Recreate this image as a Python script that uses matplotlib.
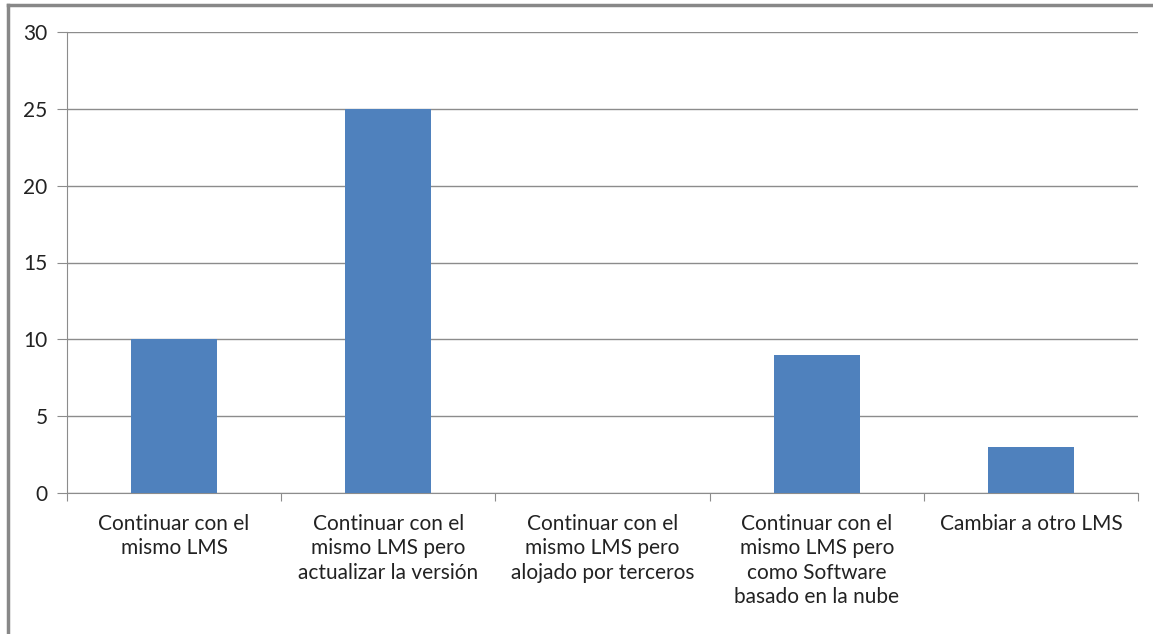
import matplotlib.pyplot as plt
import numpy as np

categories = ["Continuar con el\nmismo LMS",
              "Continuar con el\nmismo LMS pero\nactualizar la versión",
              "Continuar con el\nmismo LMS pero\nalojado por terceros",
              "Continuar con el\nmismo LMS pero\ncomo Software\nbasado en la nube",
              "Cambiar a otro LMS"]
values = [10, 25, 0, 9, 3]
yticks = [0, 5, 10, 15, 20, 25, 30]

plt.rcParams['font.family'] = ['Lato', 'DejaVu Sans']

fig = plt.figure(figsize=(11.53, 6.34), dpi=100)
W, H = 1153, 634
ax = fig.add_axes([67 / W, 1 - 493 / H, (1138 - 67) / W, (493 - 32) / H])

x = np.arange(len(categories))
ax.bar(x, values, width=0.40, color='#4F81BD', zorder=3)

ax.set_xlim(-0.5, len(categories) - 0.5)
ax.set_ylim(0, 30)
ax.set_yticks(yticks)
ax.yaxis.grid(True, color='#8c8c8c', linewidth=1.0, zorder=0)
for side in ['top', 'right']:
    ax.spines[side].set_visible(False)
ax.spines['left'].set_color('#8c8c8c')
ax.spines['bottom'].set_color('#8c8c8c')
ax.tick_params(axis='y', length=7, color='#8c8c8c', labelsize=15, pad=7,
               labelcolor='#222222')

# category boundaries as tick marks, labels centered in between
ax.set_xticks(np.arange(-0.5, len(categories) + 0.5, 1))
ax.set_xticklabels([])
ax.tick_params(axis='x', length=6, color='#8c8c8c')
for i, lab in enumerate(categories):
    ax.text(i, -1.35, lab, ha='center', va='top', fontsize=15,
            linespacing=1.28, color='#222222')

# outer chart border (only top and left visible in the crop)
fig.add_artist(plt.Line2D([8 / W, 1], [1 - 5 / H, 1 - 5 / H], color='#888888', linewidth=2.5))
fig.add_artist(plt.Line2D([8 / W, 8 / W], [0, 1 - 5 / H], color='#888888', linewidth=2.5))

fig.savefig('out.png', dpi=100)
